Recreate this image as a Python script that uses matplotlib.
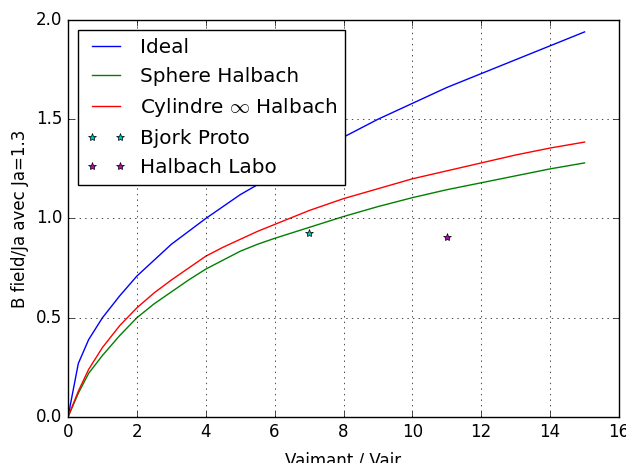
import matplotlib
matplotlib.use('Agg')
import matplotlib.pyplot as plt

# ratio Vaimant / Vair
x_vals = [0, 0.3, 0.6, 1, 1.5, 2, 2.5, 3, 3.5, 4, 4.5, 5, 5.5, 6, 7, 8, 9,
          10, 11, 12, 13, 14, 15]

ideal = [0, 0.27, 0.39, 0.50, 0.61, 0.71, 0.79, 0.87, 0.935, 1.00, 1.06,
         1.12, 1.17, 1.22, 1.32, 1.41, 1.50, 1.58, 1.66, 1.73, 1.80, 1.87,
         1.94]
sphere = [0, 0.12, 0.22, 0.31, 0.41, 0.50, 0.57, 0.63, 0.69, 0.745, 0.79,
          0.835, 0.87, 0.90, 0.955, 1.01, 1.06, 1.105, 1.145, 1.18, 1.215,
          1.25, 1.28]
cylindre = [0, 0.13, 0.24, 0.35, 0.46, 0.55, 0.625, 0.69, 0.75, 0.81, 0.855,
            0.895, 0.935, 0.97, 1.04, 1.10, 1.15, 1.20, 1.24, 1.28, 1.32,
            1.355, 1.385]

bjork_x = [7]
bjork_y = [0.927]
labo_x = [11]
labo_y = [0.907]


def plot_chart():
  plt.style.use('classic')
  fig = plt.figure(figsize=(6.26, 4.63), dpi=100)
  ax = fig.add_axes([68 / 626, 46 / 463, 551 / 626, 397 / 463])

  ax.plot(x_vals, ideal, 'b', label='Ideal')
  ax.plot(x_vals, sphere, 'g', label='Sphere Halbach')
  ax.plot(x_vals, cylindre, 'r', label=r'Cylindre $\infty$ Halbach')
  ax.plot(bjork_x, bjork_y, 'c*', mec='k', label='Bjork Proto')
  ax.plot(labo_x, labo_y, 'm*', mec='k', label='Halbach Labo')

  ax.set_xlim(0, 16)
  ax.set_ylim(0, 2.0)
  # the original figure is cropped just below the x label
  ax.set_xlabel('Vaimant / Vair', labelpad=8)
  ax.set_ylabel('B field/Ja avec Ja=1.3')
  ax.grid(True)
  ax.legend(loc='upper left', fontsize='large', numpoints=2,
            handletextpad=0.7)

  fig.savefig('out.png', dpi=100)


def main():
  plot_chart()


if __name__ == '__main__':
  main()
